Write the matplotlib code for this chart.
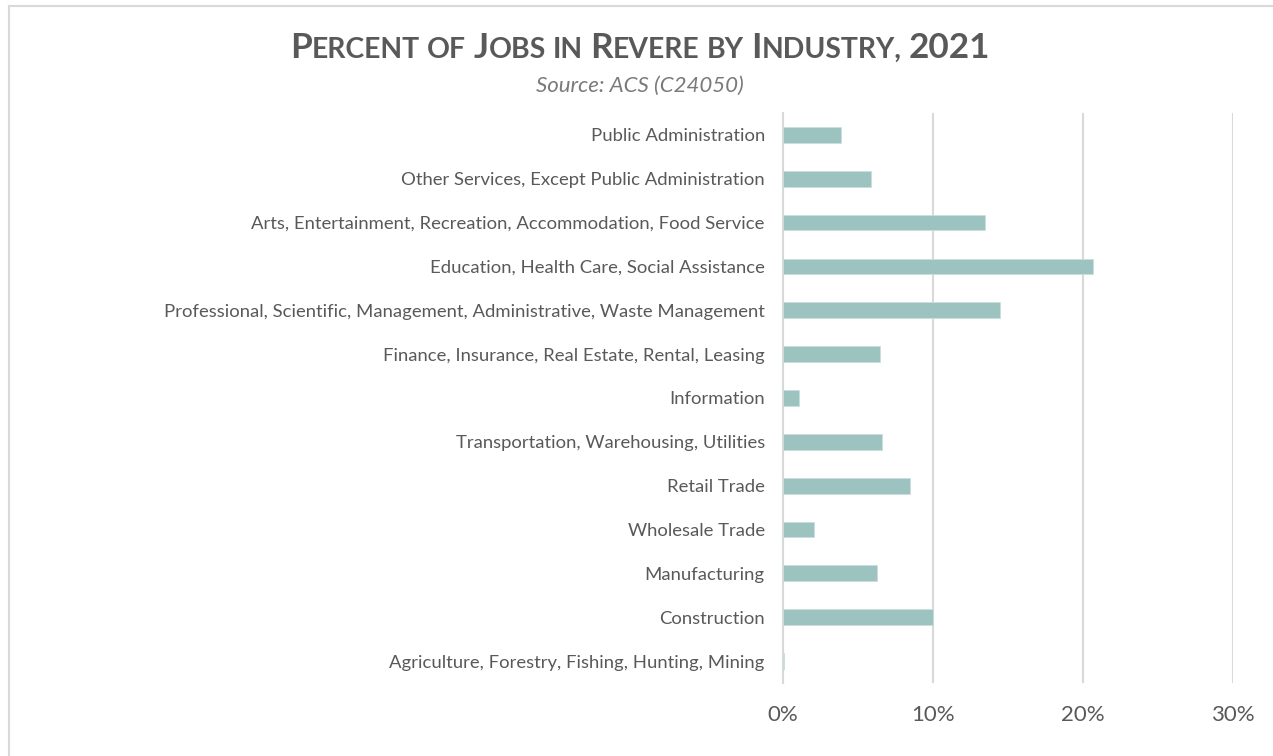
import matplotlib.pyplot as plt
from matplotlib.lines import Line2D
from matplotlib.offsetbox import TextArea, HPacker, AnchoredOffsetbox
from matplotlib.ticker import FuncFormatter

# Data (bottom to top, as drawn)
industries = [
    "Agriculture, Forestry, Fishing, Hunting, Mining",
    "Construction",
    "Manufacturing",
    "Wholesale Trade",
    "Retail Trade",
    "Transportation, Warehousing, Utilities",
    "Information",
    "Finance, Insurance, Real Estate, Rental, Leasing",
    "Professional, Scientific, Management, Administrative, Waste Management",
    "Education, Health Care, Social Assistance",
    "Arts, Entertainment, Recreation, Accommodation, Food Service",
    "Other Services, Except Public Administration",
    "Public Administration",
]
percent = [0.1, 10.0, 6.3, 2.1, 8.5, 6.6, 1.1, 6.5, 14.5, 20.7, 13.5, 5.9, 3.9]
xticks = [0, 10, 20, 30]

GREY = "#595959"
plt.rcParams['font.family'] = ['Lato', 'DejaVu Sans']

fig = plt.figure(figsize=(12.73, 7.56), dpi=100)
ax = fig.add_axes([0.615, 0.0966, 0.3536, 0.754])

ax.barh(range(len(industries)), percent, height=0.36, color="#9dc3c1",
        edgecolor="#c9dedd", linewidth=0.6, zorder=3)

ax.set_xlim(0, 30)
ax.set_ylim(-0.5, len(industries) - 0.5)
ax.set_xticks(xticks)
ax.xaxis.set_major_formatter(FuncFormatter(lambda v, p: f"{v:.0f}%"))
ax.set_yticks(range(len(industries)))
ax.set_yticklabels(industries)
ax.grid(axis="x", color="#d9d9d9", linewidth=1.5, zorder=0)
ax.tick_params(axis="both", length=0, colors=GREY)
ax.tick_params(axis="y", labelsize=13.3, pad=13)
ax.tick_params(axis="x", labelsize=16, pad=16)
for s in ["top", "right", "bottom"]:
    ax.spines[s].set_visible(False)
ax.spines["left"].set_color("#d9d9d9")
ax.spines["left"].set_linewidth(1.5)

# small-caps title
big, small = 25.3, 20.4
words = ["Percent", "of", "Jobs", "in", "Revere", "by", "Industry,", "2021"]
parts = []
for i, w in enumerate(words):
    if w in ("of", "in", "by"):
        parts.append(TextArea(w.upper(), textprops=dict(fontsize=small, color=GREY, fontweight="bold")))
    elif w[0].isdigit():
        parts.append(TextArea(w, textprops=dict(fontsize=big, color=GREY, fontweight="bold")))
    else:
        parts.append(TextArea(w[0], textprops=dict(fontsize=big, color=GREY, fontweight="bold")))
        parts.append(TextArea(w[1:].upper(), textprops=dict(fontsize=small, color=GREY, fontweight="bold")))
    if i < len(words) - 1:
        parts.append(TextArea(" ", textprops=dict(fontsize=small)))
box = HPacker(children=parts, align="baseline", pad=0, sep=0)
anch = AnchoredOffsetbox(loc="center", child=box, frameon=False,
                         bbox_to_anchor=(0.503, 0.937), bbox_transform=fig.transFigure, pad=0, borderpad=0)
fig.add_artist(anch)

fig.text(0.503, 0.887, "Source: ACS (C24050)", ha="center", va="center",
         fontsize=16, style="italic", color="#7a7a7a")

# chart border
fig.add_artist(Line2D([8.5 / 1273, 8.5 / 1273], [0, 1 - 5.5 / 756], transform=fig.transFigure,
                      color="#d9d9d9", linewidth=1.5))
fig.add_artist(Line2D([8.5 / 1273, 1], [1 - 5.5 / 756, 1 - 5.5 / 756], transform=fig.transFigure,
                      color="#d9d9d9", linewidth=1.5))

fig.savefig("out.png", dpi=100)
